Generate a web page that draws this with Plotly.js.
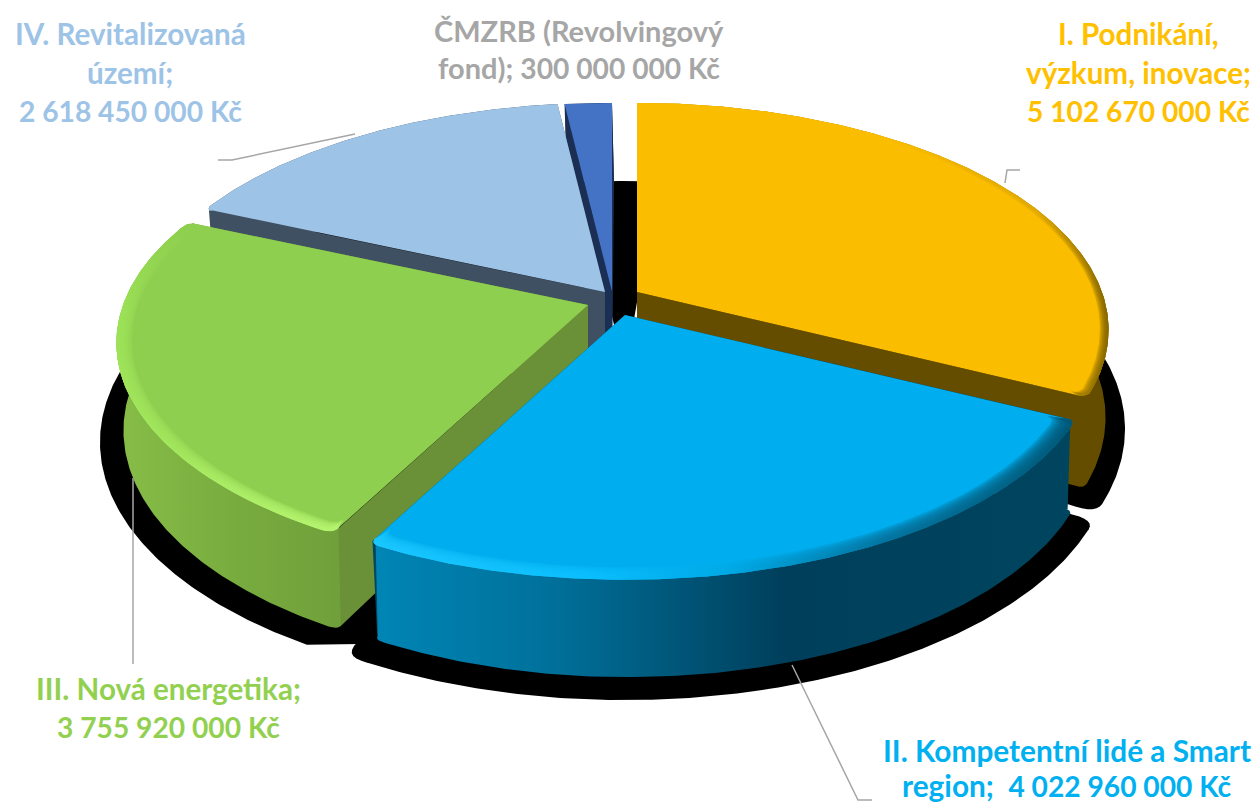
<!DOCTYPE html>
<html><head><meta charset="utf-8">
<script src="https://cdn.plot.ly/plotly-3.0.1.min.js"></script>
<style>html,body{margin:0;padding:0;background:#fff}#c{width:1260px;height:802px}</style>
</head><body><div id="c"></div>
<script>
// DATA
const categories = ['I. Podnikání,<br>výzkum, inovace;', 'II. Kompetentní lidé a Smart<br>region; ', 'III. Nová energetika;', 'IV. Revitalizovaná<br>území;', 'ČMZRB (Revolvingový<br>fond);'];
const values = [5102670000, 4022960000, 3755920000, 2618450000, 300000000];
const valueBreaks = ['<br>', ' ', '<br>', '<br>', ' '];
// STYLE
const topColors = ['#FBBD00', '#00AEEF', '#8FCF4F', '#9DC3E6', '#4472C4'];
const labelColors = ['#FFC000', '#00B0F0', '#92D050', '#9DC3E6', '#A6A6A6'];
const sideColors = ['#654D00', '#00465F', '#6A9138', '#3F5062', '#1B2F55'];
const apexX = [637, 625, 588, 605, 612];
const apexY = [292, 315, 305, 292, 292];
const labelX = [1138, 1067, 168, 130, 579];
const labelTopY = [33, 750, 688, 33, 30];
const labelStep = [39, 35, 39, 39, 37];
const labelSize = [29.6, 29.8, 29.6, 29.6, 29];
const drawOrder = [0, 4, 3, 2, 1];
const shadowStart = [0, 2.5, 0, 0, 0];
const shadowEnd = [6, 0, 0, 0, 0];
const shadowTip = [0, 0, 70, 0, 0];
const roundStart = [0, 1, 1, 1, 0];
const roundEnd = [1, 1, 1, 0, 0];

const topPlane = {R: 465, R2: 220.6, p: 0.167, dz: 0, dx: 0};
const bottomPlane = {R: 460, R2: 230, p: 0.167, dz: 86, dx: 2};
const shadowPlane = {R: 474, R2: 234, p: 0.238, dz: 78, dx: 0};

const total = values.reduce((s, v) => s + v, 0);
const starts = [], ends = [];
values.reduce((acc, v, i) => { starts[i] = acc; ends[i] = acc + v / total * 360; return ends[i]; }, 0);

function pt(a, ax, ay, P, r) {
  r = r === undefined ? 1 : r;
  const t = a * Math.PI / 180, u = r * Math.sin(t), v = r * Math.cos(t), s = 1 / (1 + P.p * v);
  return [ax + P.dx + P.R * u * s, ay + P.dz - P.R2 * v * s];
}
function arc(a1, a2, ax, ay, P, r) {
  const out = [], n = Math.max(2, Math.ceil(Math.abs(a2 - a1) * 2));
  for (let k = 0; k <= n; k++) out.push(pt(a1 + (a2 - a1) * k / n, ax, ay, P, r));
  return out;
}
function quad(p0, c, p1) {
  const out = [];
  for (let k = 0; k <= 6; k++) {
    const t = k / 6, m = 1 - t;
    out.push([m * m * p0[0] + 2 * m * t * c[0] + t * t * p1[0], m * m * p0[1] + 2 * m * t * c[1] + t * t * p1[1]]);
  }
  return out;
}
// arc whose ends may be rounded inwards towards the apex
function rim(a1, a2, ax, ay, P, r, da, dr, rs, re) {
  const s = rs ? quad(pt(a1, ax, ay, P, r - dr), pt(a1, ax, ay, P, r), pt(a1 + da, ax, ay, P, r)) : [];
  const e = re ? quad(pt(a2 - da, ax, ay, P, r), pt(a2, ax, ay, P, r), pt(a2, ax, ay, P, r - dr)) : [];
  return s.concat(arc(rs ? a1 + da : a1, re ? a2 - da : a2, ax, ay, P, r), e);
}
const traces = [];
function poly(pts, color, grad, opacity) {
  const tr = {x: pts.map(p => p[0]), y: pts.map(p => p[1]), mode: 'lines', fill: 'toself',
    line: {width: 0, color: color}, fillcolor: color, hoverinfo: 'skip', showlegend: false, opacity: opacity === undefined ? 1 : opacity};
  if (grad) tr.fillgradient = grad;
  traces.push(tr);
}
function grad(type, start, stop, stops) {
  return {type: type, start: start, stop: stop, colorscale: stops};
}

// shadow below the whole pie
values.forEach((v, i) => {
  const a1 = starts[i] + shadowStart[i], a2 = ends[i] + shadowEnd[i];
  const body = rim(a1, a2, apexX[i], apexY[i], shadowPlane, 1, 2, 0.04, roundStart[i] && !shadowTip[i], roundEnd[i]);
  const tip = pt(a1, apexX[i], apexY[i], shadowPlane);
  const lead = shadowTip[i] ? [[tip[0] + shadowTip[i], tip[1] - 1]] : [];
  poly([[apexX[i], apexY[i] + shadowPlane.dz]].concat(lead, body), '#000000');
});
poly([[625, 292 + shadowPlane.dz]].concat(arc(ends[3], 365, 625, 292, shadowPlane)), '#000000');

const wallGrad = [
  null,
  grad('horizontal', 378, 1080, [[0, '#0085B5'], [0.25, '#00709A'], [0.58, '#003F5B'], [1, '#00455F']]),
  grad('horizontal', 125, 345, [[0, '#86BC47'], [0.5, '#78AC3F'], [1, '#6F9F3A']]),
  null, null
];
const bevels = [
  {rs: [0.982, 0.985, 0.988, 0.991, 0.994, 0.997], o: 0.3, g: grad('horizontal', 880, 1105, [[0, '#FBBD00'], [0.7, '#D9A404'], [1, '#7A5E00']])},
  {rs: [0.96, 0.965, 0.97, 0.975, 0.98, 0.985, 0.99, 0.995], o: 0.28, g: grad('horizontal', 378, 1080, [[0, '#1CC8FF'], [0.3, '#0CC0FF'], [0.5, '#00A8E4'], [0.72, '#05709A'], [1, '#02506C']])},
  {rs: [0.968, 0.972, 0.976, 0.98, 0.984, 0.988, 0.992, 0.996], o: 0.28, g: grad('vertical', 222, 525, [[0, '#8FCF4F'], [0.3, '#9CE257'], [0.75, '#A4E85E'], [1, '#B6F670']])},
  null, null
];

drawOrder.forEach(i => {
  const ax = apexX[i], ay = apexY[i], a1 = starts[i], a2 = ends[i], rs = roundStart[i], re = roundEnd[i];
  [a2, a1].forEach(a => {
    poly([[ax, ay], pt(a, ax, ay, topPlane, 0.99), pt(a, ax, ay, bottomPlane, 0.99), [ax, ay + bottomPlane.dz]], sideColors[i]);
  });
  const top = rim(a1, a2, ax, ay, topPlane, 1, 1.5, 0.02, rs, re), bot = rim(a1, a2, ax, ay, bottomPlane, 1, 1.2, 0.012, rs, re);
  poly(top.concat(bot.slice().reverse()), sideColors[i], wallGrad[i]);
  poly([[ax, ay]].concat(top), topColors[i]);
  if (bevels[i]) bevels[i].rs.forEach(r => {
    const inner = rim(a1 + 0.5, a2 - 0.5, ax, ay, topPlane, r, 1.5, 0.02, rs, re);
    poly(top.concat(inner.reverse()), topColors[i], bevels[i].g, bevels[i].o);
  });
});

// leader lines
const leaders = [
  [[1005, 183], [1007, 170], [1020, 170]],
  [[792, 665], [858, 800], [872, 800]],
  [[133, 478], [133, 664]],
  [[355, 134], [232, 160], [218, 160]]
];
leaders.forEach(l => traces.push({x: l.map(p => p[0]), y: l.map(p => p[1]), mode: 'lines',
  line: {color: '#A6A6A6', width: 1.5}, hoverinfo: 'skip', showlegend: false}));

const fmt = v => String(v).replace(/\B(?=(\d{3})+$)/g, ' ') + ' Kč';
const annotations = [];
values.forEach((v, i) => {
  const num = '<span style="font-size:28.2px">' + fmt(v) + '</span>';
  (categories[i] + valueBreaks[i] + num).split('<br>').forEach((line, k) => {
    annotations.push({
      x: labelX[i], y: labelTopY[i] + k * labelStep[i], xref: 'x', yref: 'y', xanchor: 'center', yanchor: 'middle', align: 'center',
      showarrow: false, text: '<b>' + line + '</b>',
      font: {family: 'Lato, Carlito, sans-serif', size: labelSize[i], color: labelColors[i]}
    });
  });
});

Plotly.newPlot('c', traces, {
  width: 1260, height: 802, margin: {l: 0, r: 0, t: 0, b: 0},
  paper_bgcolor: '#fff', plot_bgcolor: '#fff', showlegend: false,
  xaxis: {range: [0, 1260], visible: false, fixedrange: true},
  yaxis: {range: [802, 0], visible: false, fixedrange: true},
  annotations: annotations
}, {displayModeBar: false, staticPlot: true});
</script></body></html>
